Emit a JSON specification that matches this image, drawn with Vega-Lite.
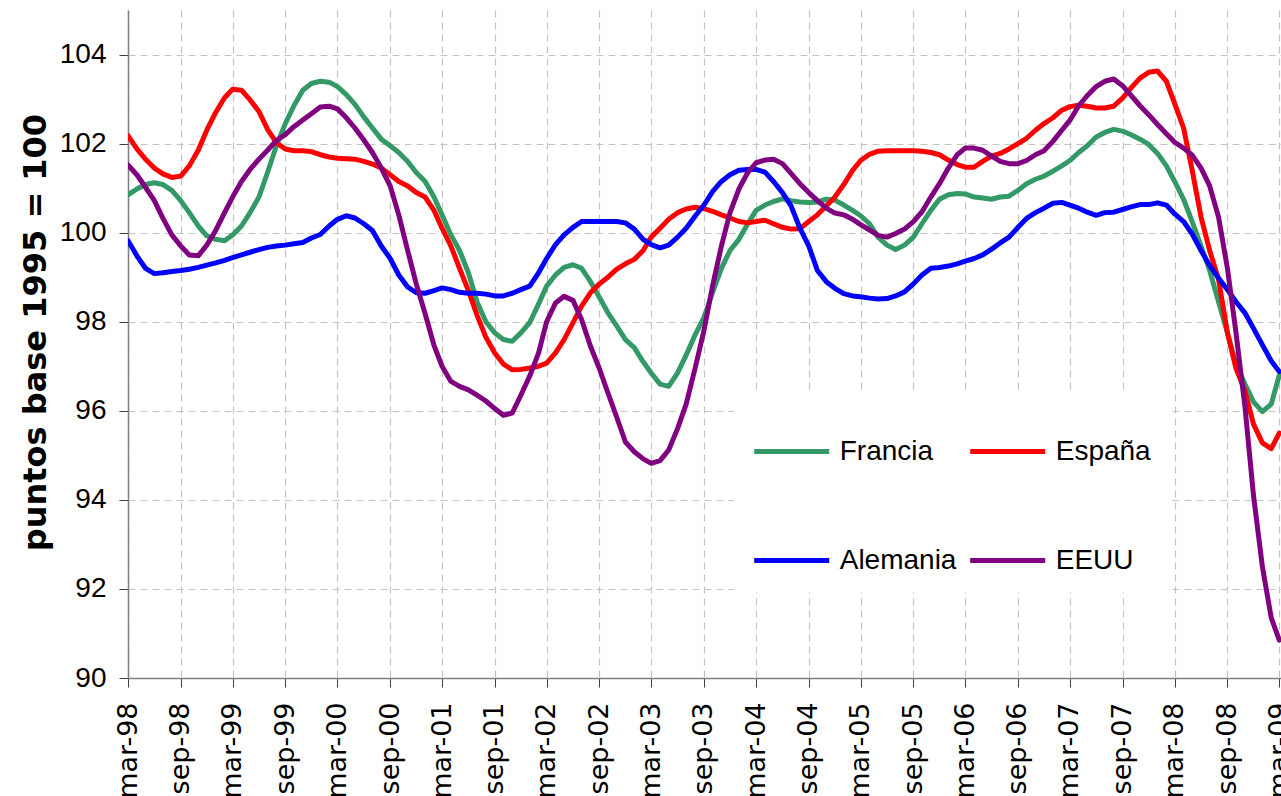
{
  "$schema": "https://vega.github.io/schema/vega-lite/v6.json",
  "width": 1153,
  "height": 668,
  "autosize": {"type": "none"},
  "padding": {"left": 128, "top": 10, "right": 0, "bottom": 118},
  "background": "white",
  "config": {
    "view": {"stroke": null},
    "font": "Liberation Sans"
  },
  "data": {"values": [
    {"m":"1998-03","s":"Francia","v":100.85},{"m":"1998-04","s":"Francia","v":100.98},{"m":"1998-05","s":"Francia","v":101.08},{"m":"1998-06","s":"Francia","v":101.12},{"m":"1998-07","s":"Francia","v":101.08},{"m":"1998-08","s":"Francia","v":100.95},{"m":"1998-09","s":"Francia","v":100.72},{"m":"1998-10","s":"Francia","v":100.45},{"m":"1998-11","s":"Francia","v":100.15},{"m":"1998-12","s":"Francia","v":99.93},
    {"m":"1999-01","s":"Francia","v":99.85},{"m":"1999-02","s":"Francia","v":99.82},{"m":"1999-03","s":"Francia","v":99.95},{"m":"1999-04","s":"Francia","v":100.15},{"m":"1999-05","s":"Francia","v":100.45},{"m":"1999-06","s":"Francia","v":100.8},{"m":"1999-07","s":"Francia","v":101.35},{"m":"1999-08","s":"Francia","v":101.95},{"m":"1999-09","s":"Francia","v":102.45},{"m":"1999-10","s":"Francia","v":102.85},{"m":"1999-11","s":"Francia","v":103.2},{"m":"1999-12","s":"Francia","v":103.35},
    {"m":"2000-01","s":"Francia","v":103.4},{"m":"2000-02","s":"Francia","v":103.38},{"m":"2000-03","s":"Francia","v":103.28},{"m":"2000-04","s":"Francia","v":103.1},{"m":"2000-05","s":"Francia","v":102.88},{"m":"2000-06","s":"Francia","v":102.6},{"m":"2000-07","s":"Francia","v":102.35},{"m":"2000-08","s":"Francia","v":102.1},{"m":"2000-09","s":"Francia","v":101.95},{"m":"2000-10","s":"Francia","v":101.8},{"m":"2000-11","s":"Francia","v":101.6},{"m":"2000-12","s":"Francia","v":101.35},
    {"m":"2001-01","s":"Francia","v":101.15},{"m":"2001-02","s":"Francia","v":100.8},{"m":"2001-03","s":"Francia","v":100.4},{"m":"2001-04","s":"Francia","v":99.95},{"m":"2001-05","s":"Francia","v":99.6},{"m":"2001-06","s":"Francia","v":99.1},{"m":"2001-07","s":"Francia","v":98.45},{"m":"2001-08","s":"Francia","v":98.0},{"m":"2001-09","s":"Francia","v":97.75},{"m":"2001-10","s":"Francia","v":97.6},{"m":"2001-11","s":"Francia","v":97.56},{"m":"2001-12","s":"Francia","v":97.75},
    {"m":"2002-01","s":"Francia","v":97.98},{"m":"2002-02","s":"Francia","v":98.4},{"m":"2002-03","s":"Francia","v":98.8},{"m":"2002-04","s":"Francia","v":99.05},{"m":"2002-05","s":"Francia","v":99.22},{"m":"2002-06","s":"Francia","v":99.28},{"m":"2002-07","s":"Francia","v":99.2},{"m":"2002-08","s":"Francia","v":98.9},{"m":"2002-09","s":"Francia","v":98.55},{"m":"2002-10","s":"Francia","v":98.2},{"m":"2002-11","s":"Francia","v":97.9},{"m":"2002-12","s":"Francia","v":97.6},
    {"m":"2003-01","s":"Francia","v":97.42},{"m":"2003-02","s":"Francia","v":97.1},{"m":"2003-03","s":"Francia","v":96.85},{"m":"2003-04","s":"Francia","v":96.6},{"m":"2003-05","s":"Francia","v":96.55},{"m":"2003-06","s":"Francia","v":96.85},{"m":"2003-07","s":"Francia","v":97.25},{"m":"2003-08","s":"Francia","v":97.7},{"m":"2003-09","s":"Francia","v":98.1},{"m":"2003-10","s":"Francia","v":98.65},{"m":"2003-11","s":"Francia","v":99.2},{"m":"2003-12","s":"Francia","v":99.6},
    {"m":"2004-01","s":"Francia","v":99.85},{"m":"2004-02","s":"Francia","v":100.2},{"m":"2004-03","s":"Francia","v":100.5},{"m":"2004-04","s":"Francia","v":100.62},{"m":"2004-05","s":"Francia","v":100.7},{"m":"2004-06","s":"Francia","v":100.76},{"m":"2004-07","s":"Francia","v":100.72},{"m":"2004-08","s":"Francia","v":100.69},{"m":"2004-09","s":"Francia","v":100.68},{"m":"2004-10","s":"Francia","v":100.69},{"m":"2004-11","s":"Francia","v":100.75},{"m":"2004-12","s":"Francia","v":100.73},
    {"m":"2005-01","s":"Francia","v":100.62},{"m":"2005-02","s":"Francia","v":100.5},{"m":"2005-03","s":"Francia","v":100.38},{"m":"2005-04","s":"Francia","v":100.2},{"m":"2005-05","s":"Francia","v":99.9},{"m":"2005-06","s":"Francia","v":99.72},{"m":"2005-07","s":"Francia","v":99.62},{"m":"2005-08","s":"Francia","v":99.72},{"m":"2005-09","s":"Francia","v":99.9},{"m":"2005-10","s":"Francia","v":100.2},{"m":"2005-11","s":"Francia","v":100.5},{"m":"2005-12","s":"Francia","v":100.75},
    {"m":"2006-01","s":"Francia","v":100.85},{"m":"2006-02","s":"Francia","v":100.88},{"m":"2006-03","s":"Francia","v":100.87},{"m":"2006-04","s":"Francia","v":100.8},{"m":"2006-05","s":"Francia","v":100.78},{"m":"2006-06","s":"Francia","v":100.75},{"m":"2006-07","s":"Francia","v":100.8},{"m":"2006-08","s":"Francia","v":100.82},{"m":"2006-09","s":"Francia","v":100.95},{"m":"2006-10","s":"Francia","v":101.1},{"m":"2006-11","s":"Francia","v":101.2},{"m":"2006-12","s":"Francia","v":101.27},
    {"m":"2007-01","s":"Francia","v":101.38},{"m":"2007-02","s":"Francia","v":101.5},{"m":"2007-03","s":"Francia","v":101.62},{"m":"2007-04","s":"Francia","v":101.8},{"m":"2007-05","s":"Francia","v":101.95},{"m":"2007-06","s":"Francia","v":102.15},{"m":"2007-07","s":"Francia","v":102.25},{"m":"2007-08","s":"Francia","v":102.32},{"m":"2007-09","s":"Francia","v":102.28},{"m":"2007-10","s":"Francia","v":102.2},{"m":"2007-11","s":"Francia","v":102.1},{"m":"2007-12","s":"Francia","v":101.98},
    {"m":"2008-01","s":"Francia","v":101.78},{"m":"2008-02","s":"Francia","v":101.5},{"m":"2008-03","s":"Francia","v":101.15},{"m":"2008-04","s":"Francia","v":100.75},{"m":"2008-05","s":"Francia","v":100.25},{"m":"2008-06","s":"Francia","v":99.7},{"m":"2008-07","s":"Francia","v":99.15},{"m":"2008-08","s":"Francia","v":98.45},{"m":"2008-09","s":"Francia","v":97.75},{"m":"2008-10","s":"Francia","v":97.05},{"m":"2008-11","s":"Francia","v":96.6},{"m":"2008-12","s":"Francia","v":96.2},
    {"m":"2009-01","s":"Francia","v":95.98},{"m":"2009-02","s":"Francia","v":96.15},{"m":"2009-03","s":"Francia","v":96.8},

    {"m":"1998-03","s":"España","v":102.18},{"m":"1998-04","s":"España","v":101.88},{"m":"1998-05","s":"España","v":101.65},{"m":"1998-06","s":"España","v":101.45},{"m":"1998-07","s":"España","v":101.32},{"m":"1998-08","s":"España","v":101.24},{"m":"1998-09","s":"España","v":101.27},{"m":"1998-10","s":"España","v":101.5},{"m":"1998-11","s":"España","v":101.85},{"m":"1998-12","s":"España","v":102.3},
    {"m":"1999-01","s":"España","v":102.7},{"m":"1999-02","s":"España","v":103.03},{"m":"1999-03","s":"España","v":103.22},{"m":"1999-04","s":"España","v":103.2},{"m":"1999-05","s":"España","v":102.98},{"m":"1999-06","s":"España","v":102.72},{"m":"1999-07","s":"España","v":102.32},{"m":"1999-08","s":"España","v":102.02},{"m":"1999-09","s":"España","v":101.88},{"m":"1999-10","s":"España","v":101.84},{"m":"1999-11","s":"España","v":101.84},{"m":"1999-12","s":"España","v":101.82},
    {"m":"2000-01","s":"España","v":101.75},{"m":"2000-02","s":"España","v":101.7},{"m":"2000-03","s":"España","v":101.67},{"m":"2000-04","s":"España","v":101.66},{"m":"2000-05","s":"España","v":101.65},{"m":"2000-06","s":"España","v":101.6},{"m":"2000-07","s":"España","v":101.54},{"m":"2000-08","s":"España","v":101.45},{"m":"2000-09","s":"España","v":101.3},{"m":"2000-10","s":"España","v":101.15},{"m":"2000-11","s":"España","v":101.05},{"m":"2000-12","s":"España","v":100.9},
    {"m":"2001-01","s":"España","v":100.8},{"m":"2001-02","s":"España","v":100.5},{"m":"2001-03","s":"España","v":100.1},{"m":"2001-04","s":"España","v":99.7},{"m":"2001-05","s":"España","v":99.2},{"m":"2001-06","s":"España","v":98.7},{"m":"2001-07","s":"España","v":98.15},{"m":"2001-08","s":"España","v":97.65},{"m":"2001-09","s":"España","v":97.3},{"m":"2001-10","s":"España","v":97.05},{"m":"2001-11","s":"España","v":96.92},{"m":"2001-12","s":"España","v":96.93},
    {"m":"2002-01","s":"España","v":96.96},{"m":"2002-02","s":"España","v":97.0},{"m":"2002-03","s":"España","v":97.07},{"m":"2002-04","s":"España","v":97.3},{"m":"2002-05","s":"España","v":97.6},{"m":"2002-06","s":"España","v":97.98},{"m":"2002-07","s":"España","v":98.35},{"m":"2002-08","s":"España","v":98.65},{"m":"2002-09","s":"España","v":98.85},{"m":"2002-10","s":"España","v":99.0},{"m":"2002-11","s":"España","v":99.18},{"m":"2002-12","s":"España","v":99.3},
    {"m":"2003-01","s":"España","v":99.4},{"m":"2003-02","s":"España","v":99.6},{"m":"2003-03","s":"España","v":99.9},{"m":"2003-04","s":"España","v":100.1},{"m":"2003-05","s":"España","v":100.3},{"m":"2003-06","s":"España","v":100.45},{"m":"2003-07","s":"España","v":100.53},{"m":"2003-08","s":"España","v":100.57},{"m":"2003-09","s":"España","v":100.54},{"m":"2003-10","s":"España","v":100.48},{"m":"2003-11","s":"España","v":100.4},{"m":"2003-12","s":"España","v":100.33},
    {"m":"2004-01","s":"España","v":100.25},{"m":"2004-02","s":"España","v":100.22},{"m":"2004-03","s":"España","v":100.25},{"m":"2004-04","s":"España","v":100.28},{"m":"2004-05","s":"España","v":100.2},{"m":"2004-06","s":"España","v":100.12},{"m":"2004-07","s":"España","v":100.08},{"m":"2004-08","s":"España","v":100.09},{"m":"2004-09","s":"España","v":100.25},{"m":"2004-10","s":"España","v":100.4},{"m":"2004-11","s":"España","v":100.6},{"m":"2004-12","s":"España","v":100.8},
    {"m":"2005-01","s":"España","v":101.08},{"m":"2005-02","s":"España","v":101.4},{"m":"2005-03","s":"España","v":101.62},{"m":"2005-04","s":"España","v":101.76},{"m":"2005-05","s":"España","v":101.83},{"m":"2005-06","s":"España","v":101.84},{"m":"2005-07","s":"España","v":101.84},{"m":"2005-08","s":"España","v":101.84},{"m":"2005-09","s":"España","v":101.84},{"m":"2005-10","s":"España","v":101.83},{"m":"2005-11","s":"España","v":101.8},{"m":"2005-12","s":"España","v":101.75},
    {"m":"2006-01","s":"España","v":101.63},{"m":"2006-02","s":"España","v":101.53},{"m":"2006-03","s":"España","v":101.47},{"m":"2006-04","s":"España","v":101.47},{"m":"2006-05","s":"España","v":101.6},{"m":"2006-06","s":"España","v":101.72},{"m":"2006-07","s":"España","v":101.78},{"m":"2006-08","s":"España","v":101.88},{"m":"2006-09","s":"España","v":102.0},{"m":"2006-10","s":"España","v":102.12},{"m":"2006-11","s":"España","v":102.3},{"m":"2006-12","s":"España","v":102.45},
    {"m":"2007-01","s":"España","v":102.58},{"m":"2007-02","s":"España","v":102.75},{"m":"2007-03","s":"España","v":102.83},{"m":"2007-04","s":"España","v":102.86},{"m":"2007-05","s":"España","v":102.84},{"m":"2007-06","s":"España","v":102.8},{"m":"2007-07","s":"España","v":102.8},{"m":"2007-08","s":"España","v":102.84},{"m":"2007-09","s":"España","v":103.02},{"m":"2007-10","s":"España","v":103.25},{"m":"2007-11","s":"España","v":103.47},{"m":"2007-12","s":"España","v":103.6},
    {"m":"2008-01","s":"España","v":103.63},{"m":"2008-02","s":"España","v":103.4},{"m":"2008-03","s":"España","v":102.9},{"m":"2008-04","s":"España","v":102.35},{"m":"2008-05","s":"España","v":101.4},{"m":"2008-06","s":"España","v":100.35},{"m":"2008-07","s":"España","v":99.6},{"m":"2008-08","s":"España","v":98.95},{"m":"2008-09","s":"España","v":97.75},{"m":"2008-10","s":"España","v":96.95},{"m":"2008-11","s":"España","v":96.45},{"m":"2008-12","s":"España","v":95.7},
    {"m":"2009-01","s":"España","v":95.28},{"m":"2009-02","s":"España","v":95.15},{"m":"2009-03","s":"España","v":95.5},

    {"m":"1998-03","s":"Alemania","v":99.82},{"m":"1998-04","s":"Alemania","v":99.48},{"m":"1998-05","s":"Alemania","v":99.2},{"m":"1998-06","s":"Alemania","v":99.08},{"m":"1998-07","s":"Alemania","v":99.1},{"m":"1998-08","s":"Alemania","v":99.13},{"m":"1998-09","s":"Alemania","v":99.15},{"m":"1998-10","s":"Alemania","v":99.18},{"m":"1998-11","s":"Alemania","v":99.22},{"m":"1998-12","s":"Alemania","v":99.27},
    {"m":"1999-01","s":"Alemania","v":99.32},{"m":"1999-02","s":"Alemania","v":99.38},{"m":"1999-03","s":"Alemania","v":99.44},{"m":"1999-04","s":"Alemania","v":99.5},{"m":"1999-05","s":"Alemania","v":99.56},{"m":"1999-06","s":"Alemania","v":99.62},{"m":"1999-07","s":"Alemania","v":99.67},{"m":"1999-08","s":"Alemania","v":99.7},{"m":"1999-09","s":"Alemania","v":99.72},{"m":"1999-10","s":"Alemania","v":99.75},{"m":"1999-11","s":"Alemania","v":99.78},{"m":"1999-12","s":"Alemania","v":99.88},
    {"m":"2000-01","s":"Alemania","v":99.96},{"m":"2000-02","s":"Alemania","v":100.15},{"m":"2000-03","s":"Alemania","v":100.3},{"m":"2000-04","s":"Alemania","v":100.38},{"m":"2000-05","s":"Alemania","v":100.33},{"m":"2000-06","s":"Alemania","v":100.2},{"m":"2000-07","s":"Alemania","v":100.05},{"m":"2000-08","s":"Alemania","v":99.7},{"m":"2000-09","s":"Alemania","v":99.42},{"m":"2000-10","s":"Alemania","v":99.05},{"m":"2000-11","s":"Alemania","v":98.78},{"m":"2000-12","s":"Alemania","v":98.65},
    {"m":"2001-01","s":"Alemania","v":98.64},{"m":"2001-02","s":"Alemania","v":98.7},{"m":"2001-03","s":"Alemania","v":98.76},{"m":"2001-04","s":"Alemania","v":98.72},{"m":"2001-05","s":"Alemania","v":98.66},{"m":"2001-06","s":"Alemania","v":98.64},{"m":"2001-07","s":"Alemania","v":98.64},{"m":"2001-08","s":"Alemania","v":98.62},{"m":"2001-09","s":"Alemania","v":98.58},{"m":"2001-10","s":"Alemania","v":98.58},{"m":"2001-11","s":"Alemania","v":98.64},{"m":"2001-12","s":"Alemania","v":98.72},
    {"m":"2002-01","s":"Alemania","v":98.8},{"m":"2002-02","s":"Alemania","v":99.1},{"m":"2002-03","s":"Alemania","v":99.42},{"m":"2002-04","s":"Alemania","v":99.73},{"m":"2002-05","s":"Alemania","v":99.95},{"m":"2002-06","s":"Alemania","v":100.12},{"m":"2002-07","s":"Alemania","v":100.25},{"m":"2002-08","s":"Alemania","v":100.25},{"m":"2002-09","s":"Alemania","v":100.25},{"m":"2002-10","s":"Alemania","v":100.25},{"m":"2002-11","s":"Alemania","v":100.25},{"m":"2002-12","s":"Alemania","v":100.22},
    {"m":"2003-01","s":"Alemania","v":100.08},{"m":"2003-02","s":"Alemania","v":99.85},{"m":"2003-03","s":"Alemania","v":99.73},{"m":"2003-04","s":"Alemania","v":99.66},{"m":"2003-05","s":"Alemania","v":99.72},{"m":"2003-06","s":"Alemania","v":99.9},{"m":"2003-07","s":"Alemania","v":100.1},{"m":"2003-08","s":"Alemania","v":100.37},{"m":"2003-09","s":"Alemania","v":100.62},{"m":"2003-10","s":"Alemania","v":100.92},{"m":"2003-11","s":"Alemania","v":101.15},{"m":"2003-12","s":"Alemania","v":101.3},
    {"m":"2004-01","s":"Alemania","v":101.4},{"m":"2004-02","s":"Alemania","v":101.42},{"m":"2004-03","s":"Alemania","v":101.42},{"m":"2004-04","s":"Alemania","v":101.36},{"m":"2004-05","s":"Alemania","v":101.15},{"m":"2004-06","s":"Alemania","v":100.9},{"m":"2004-07","s":"Alemania","v":100.6},{"m":"2004-08","s":"Alemania","v":100.1},{"m":"2004-09","s":"Alemania","v":99.7},{"m":"2004-10","s":"Alemania","v":99.15},{"m":"2004-11","s":"Alemania","v":98.9},{"m":"2004-12","s":"Alemania","v":98.75},
    {"m":"2005-01","s":"Alemania","v":98.63},{"m":"2005-02","s":"Alemania","v":98.58},{"m":"2005-03","s":"Alemania","v":98.56},{"m":"2005-04","s":"Alemania","v":98.53},{"m":"2005-05","s":"Alemania","v":98.51},{"m":"2005-06","s":"Alemania","v":98.52},{"m":"2005-07","s":"Alemania","v":98.58},{"m":"2005-08","s":"Alemania","v":98.67},{"m":"2005-09","s":"Alemania","v":98.85},{"m":"2005-10","s":"Alemania","v":99.05},{"m":"2005-11","s":"Alemania","v":99.2},{"m":"2005-12","s":"Alemania","v":99.22},
    {"m":"2006-01","s":"Alemania","v":99.25},{"m":"2006-02","s":"Alemania","v":99.3},{"m":"2006-03","s":"Alemania","v":99.36},{"m":"2006-04","s":"Alemania","v":99.42},{"m":"2006-05","s":"Alemania","v":99.5},{"m":"2006-06","s":"Alemania","v":99.63},{"m":"2006-07","s":"Alemania","v":99.77},{"m":"2006-08","s":"Alemania","v":99.9},{"m":"2006-09","s":"Alemania","v":100.12},{"m":"2006-10","s":"Alemania","v":100.32},{"m":"2006-11","s":"Alemania","v":100.45},{"m":"2006-12","s":"Alemania","v":100.55},
    {"m":"2007-01","s":"Alemania","v":100.66},{"m":"2007-02","s":"Alemania","v":100.68},{"m":"2007-03","s":"Alemania","v":100.62},{"m":"2007-04","s":"Alemania","v":100.55},{"m":"2007-05","s":"Alemania","v":100.46},{"m":"2007-06","s":"Alemania","v":100.39},{"m":"2007-07","s":"Alemania","v":100.45},{"m":"2007-08","s":"Alemania","v":100.46},{"m":"2007-09","s":"Alemania","v":100.52},{"m":"2007-10","s":"Alemania","v":100.58},{"m":"2007-11","s":"Alemania","v":100.63},{"m":"2007-12","s":"Alemania","v":100.63},
    {"m":"2008-01","s":"Alemania","v":100.67},{"m":"2008-02","s":"Alemania","v":100.62},{"m":"2008-03","s":"Alemania","v":100.42},{"m":"2008-04","s":"Alemania","v":100.25},{"m":"2008-05","s":"Alemania","v":99.97},{"m":"2008-06","s":"Alemania","v":99.6},{"m":"2008-07","s":"Alemania","v":99.26},{"m":"2008-08","s":"Alemania","v":98.98},{"m":"2008-09","s":"Alemania","v":98.72},{"m":"2008-10","s":"Alemania","v":98.45},{"m":"2008-11","s":"Alemania","v":98.2},{"m":"2008-12","s":"Alemania","v":97.85},
    {"m":"2009-01","s":"Alemania","v":97.48},{"m":"2009-02","s":"Alemania","v":97.12},{"m":"2009-03","s":"Alemania","v":96.88},

    {"m":"1998-03","s":"EEUU","v":101.52},{"m":"1998-04","s":"EEUU","v":101.3},{"m":"1998-05","s":"EEUU","v":101.02},{"m":"1998-06","s":"EEUU","v":100.72},{"m":"1998-07","s":"EEUU","v":100.32},{"m":"1998-08","s":"EEUU","v":99.95},{"m":"1998-09","s":"EEUU","v":99.7},{"m":"1998-10","s":"EEUU","v":99.5},{"m":"1998-11","s":"EEUU","v":99.48},{"m":"1998-12","s":"EEUU","v":99.72},
    {"m":"1999-01","s":"EEUU","v":100.05},{"m":"1999-02","s":"EEUU","v":100.45},{"m":"1999-03","s":"EEUU","v":100.8},{"m":"1999-04","s":"EEUU","v":101.15},{"m":"1999-05","s":"EEUU","v":101.42},{"m":"1999-06","s":"EEUU","v":101.65},{"m":"1999-07","s":"EEUU","v":101.85},{"m":"1999-08","s":"EEUU","v":102.07},{"m":"1999-09","s":"EEUU","v":102.2},{"m":"1999-10","s":"EEUU","v":102.38},{"m":"1999-11","s":"EEUU","v":102.53},{"m":"1999-12","s":"EEUU","v":102.67},
    {"m":"2000-01","s":"EEUU","v":102.82},{"m":"2000-02","s":"EEUU","v":102.84},{"m":"2000-03","s":"EEUU","v":102.78},{"m":"2000-04","s":"EEUU","v":102.58},{"m":"2000-05","s":"EEUU","v":102.35},{"m":"2000-06","s":"EEUU","v":102.08},{"m":"2000-07","s":"EEUU","v":101.8},{"m":"2000-08","s":"EEUU","v":101.45},{"m":"2000-09","s":"EEUU","v":101.05},{"m":"2000-10","s":"EEUU","v":100.4},{"m":"2000-11","s":"EEUU","v":99.6},{"m":"2000-12","s":"EEUU","v":98.85},
    {"m":"2001-01","s":"EEUU","v":98.18},{"m":"2001-02","s":"EEUU","v":97.47},{"m":"2001-03","s":"EEUU","v":97.0},{"m":"2001-04","s":"EEUU","v":96.66},{"m":"2001-05","s":"EEUU","v":96.55},{"m":"2001-06","s":"EEUU","v":96.47},{"m":"2001-07","s":"EEUU","v":96.35},{"m":"2001-08","s":"EEUU","v":96.22},{"m":"2001-09","s":"EEUU","v":96.05},{"m":"2001-10","s":"EEUU","v":95.9},{"m":"2001-11","s":"EEUU","v":95.95},{"m":"2001-12","s":"EEUU","v":96.35},
    {"m":"2002-01","s":"EEUU","v":96.78},{"m":"2002-02","s":"EEUU","v":97.3},{"m":"2002-03","s":"EEUU","v":98.0},{"m":"2002-04","s":"EEUU","v":98.42},{"m":"2002-05","s":"EEUU","v":98.57},{"m":"2002-06","s":"EEUU","v":98.48},{"m":"2002-07","s":"EEUU","v":98.05},{"m":"2002-08","s":"EEUU","v":97.45},{"m":"2002-09","s":"EEUU","v":96.95},{"m":"2002-10","s":"EEUU","v":96.4},{"m":"2002-11","s":"EEUU","v":95.85},{"m":"2002-12","s":"EEUU","v":95.3},
    {"m":"2003-01","s":"EEUU","v":95.08},{"m":"2003-02","s":"EEUU","v":94.92},{"m":"2003-03","s":"EEUU","v":94.82},{"m":"2003-04","s":"EEUU","v":94.88},{"m":"2003-05","s":"EEUU","v":95.12},{"m":"2003-06","s":"EEUU","v":95.6},{"m":"2003-07","s":"EEUU","v":96.15},{"m":"2003-08","s":"EEUU","v":96.95},{"m":"2003-09","s":"EEUU","v":97.8},{"m":"2003-10","s":"EEUU","v":98.8},{"m":"2003-11","s":"EEUU","v":99.7},{"m":"2003-12","s":"EEUU","v":100.45},
    {"m":"2004-01","s":"EEUU","v":100.98},{"m":"2004-02","s":"EEUU","v":101.35},{"m":"2004-03","s":"EEUU","v":101.57},{"m":"2004-04","s":"EEUU","v":101.63},{"m":"2004-05","s":"EEUU","v":101.65},{"m":"2004-06","s":"EEUU","v":101.55},{"m":"2004-07","s":"EEUU","v":101.33},{"m":"2004-08","s":"EEUU","v":101.1},{"m":"2004-09","s":"EEUU","v":100.9},{"m":"2004-10","s":"EEUU","v":100.72},{"m":"2004-11","s":"EEUU","v":100.55},{"m":"2004-12","s":"EEUU","v":100.44},
    {"m":"2005-01","s":"EEUU","v":100.4},{"m":"2005-02","s":"EEUU","v":100.3},{"m":"2005-03","s":"EEUU","v":100.18},{"m":"2005-04","s":"EEUU","v":100.06},{"m":"2005-05","s":"EEUU","v":99.94},{"m":"2005-06","s":"EEUU","v":99.9},{"m":"2005-07","s":"EEUU","v":99.98},{"m":"2005-08","s":"EEUU","v":100.08},{"m":"2005-09","s":"EEUU","v":100.25},{"m":"2005-10","s":"EEUU","v":100.47},{"m":"2005-11","s":"EEUU","v":100.8},{"m":"2005-12","s":"EEUU","v":101.1},
    {"m":"2006-01","s":"EEUU","v":101.45},{"m":"2006-02","s":"EEUU","v":101.75},{"m":"2006-03","s":"EEUU","v":101.9},{"m":"2006-04","s":"EEUU","v":101.9},{"m":"2006-05","s":"EEUU","v":101.85},{"m":"2006-06","s":"EEUU","v":101.72},{"m":"2006-07","s":"EEUU","v":101.6},{"m":"2006-08","s":"EEUU","v":101.55},{"m":"2006-09","s":"EEUU","v":101.55},{"m":"2006-10","s":"EEUU","v":101.62},{"m":"2006-11","s":"EEUU","v":101.75},{"m":"2006-12","s":"EEUU","v":101.84},
    {"m":"2007-01","s":"EEUU","v":102.05},{"m":"2007-02","s":"EEUU","v":102.3},{"m":"2007-03","s":"EEUU","v":102.52},{"m":"2007-04","s":"EEUU","v":102.85},{"m":"2007-05","s":"EEUU","v":103.08},{"m":"2007-06","s":"EEUU","v":103.28},{"m":"2007-07","s":"EEUU","v":103.4},{"m":"2007-08","s":"EEUU","v":103.45},{"m":"2007-09","s":"EEUU","v":103.3},{"m":"2007-10","s":"EEUU","v":103.08},{"m":"2007-11","s":"EEUU","v":102.85},{"m":"2007-12","s":"EEUU","v":102.65},
    {"m":"2008-01","s":"EEUU","v":102.43},{"m":"2008-02","s":"EEUU","v":102.22},{"m":"2008-03","s":"EEUU","v":102.03},{"m":"2008-04","s":"EEUU","v":101.9},{"m":"2008-05","s":"EEUU","v":101.74},{"m":"2008-06","s":"EEUU","v":101.45},{"m":"2008-07","s":"EEUU","v":101.05},{"m":"2008-08","s":"EEUU","v":100.35},{"m":"2008-09","s":"EEUU","v":99.2},{"m":"2008-10","s":"EEUU","v":97.75},{"m":"2008-11","s":"EEUU","v":96.1},{"m":"2008-12","s":"EEUU","v":94.1},
    {"m":"2009-01","s":"EEUU","v":92.5},{"m":"2009-02","s":"EEUU","v":91.35},{"m":"2009-03","s":"EEUU","v":90.85}
  ]},
  "mark": {"type": "line", "strokeWidth": 5, "strokeJoin": "round", "strokeCap": "round", "clip": true},
  "encoding": {
    "x": {
      "field": "m",
      "type": "temporal",
      "scale": {"type": "utc", "domain": [{"year": 1998, "month": 3, "date": 1, "utc": true}, {"year": 2009, "month": 3, "date": 7, "utc": true}]},
      "axis": {
        "title": null,
        "values": [
          {"year":1998,"month":3,"date":1,"utc":true},{"year":1998,"month":9,"date":1,"utc":true},
          {"year":1999,"month":3,"date":1,"utc":true},{"year":1999,"month":9,"date":1,"utc":true},
          {"year":2000,"month":3,"date":1,"utc":true},{"year":2000,"month":9,"date":1,"utc":true},
          {"year":2001,"month":3,"date":1,"utc":true},{"year":2001,"month":9,"date":1,"utc":true},
          {"year":2002,"month":3,"date":1,"utc":true},{"year":2002,"month":9,"date":1,"utc":true},
          {"year":2003,"month":3,"date":1,"utc":true},{"year":2003,"month":9,"date":1,"utc":true},
          {"year":2004,"month":3,"date":1,"utc":true},{"year":2004,"month":9,"date":1,"utc":true},
          {"year":2005,"month":3,"date":1,"utc":true},{"year":2005,"month":9,"date":1,"utc":true},
          {"year":2006,"month":3,"date":1,"utc":true},{"year":2006,"month":9,"date":1,"utc":true},
          {"year":2007,"month":3,"date":1,"utc":true},{"year":2007,"month":9,"date":1,"utc":true},
          {"year":2008,"month":3,"date":1,"utc":true},{"year":2008,"month":9,"date":1,"utc":true},
          {"year":2009,"month":3,"date":1,"utc":true}
        ],
        "labelExpr": "lower(utcFormat(datum.value, '%b-%y'))",
        "labelAngle": 270,
        "labelFont": "DejaVu Sans",
        "labelFontSize": 27,
        "labelColor": "black",
        "labelPadding": 15,
        "labelFlush": false,
        "labelOverlap": false,
        "tickSize": 9,
        "tickColor": "#404040",
        "domainColor": "#808080",
        "domainWidth": 1.5,
        "grid": true,
        "gridColor": "#c4c4c4",
        "gridDash": [7, 5],
        "gridWidth": 1.2
      }
    },
    "y": {
      "field": "v",
      "type": "quantitative",
      "scale": {"domain": [90, 105], "zero": false, "nice": false},
      "axis": {
        "title": "puntos base 1995 = 100",
        "titleFont": "DejaVu Sans",
        "titleFontWeight": "bold",
        "titleFontSize": 32,
        "titleColor": "black",
        "titleAngle": 270,
        "titleBaseline": "bottom",
        "titleAlign": "center",
        "titleX": -76,
        "titleY": 322,
        "values": [90, 92, 94, 96, 98, 100, 102, 104],
        "labelFont": "Liberation Sans",
        "labelFontSize": 28,
        "labelColor": "black",
        "labelPadding": 13,
        "tickSize": 9,
        "tickColor": "#404040",
        "domainColor": "#808080",
        "domainWidth": 1.5,
        "grid": true,
        "gridColor": "#c4c4c4",
        "gridDash": [7, 5],
        "gridWidth": 1.2
      }
    },
    "color": {
      "field": "s",
      "type": "nominal",
      "scale": {"domain": ["Francia", "Alemania", "España", "EEUU"], "range": ["#339966", "#0000ff", "#ff0000", "#800080"]},
      "legend": {
        "title": null,
        "orient": "none",
        "legendX": 605.7,
        "legendY": 383.5,
        "columns": 2,
        "symbolType": "stroke",
        "symbolSize": 5625,
        "symbolStrokeWidth": 5,
        "labelFont": "Liberation Sans",
        "labelFontSize": 28,
        "labelColor": "black",
        "labelOffset": 8,
        "columnPadding": 3,
        "rowPadding": 55,
        "padding": 18,
        "fillColor": "white",
        "labelLimit": 400
      }
    }
  }
}
